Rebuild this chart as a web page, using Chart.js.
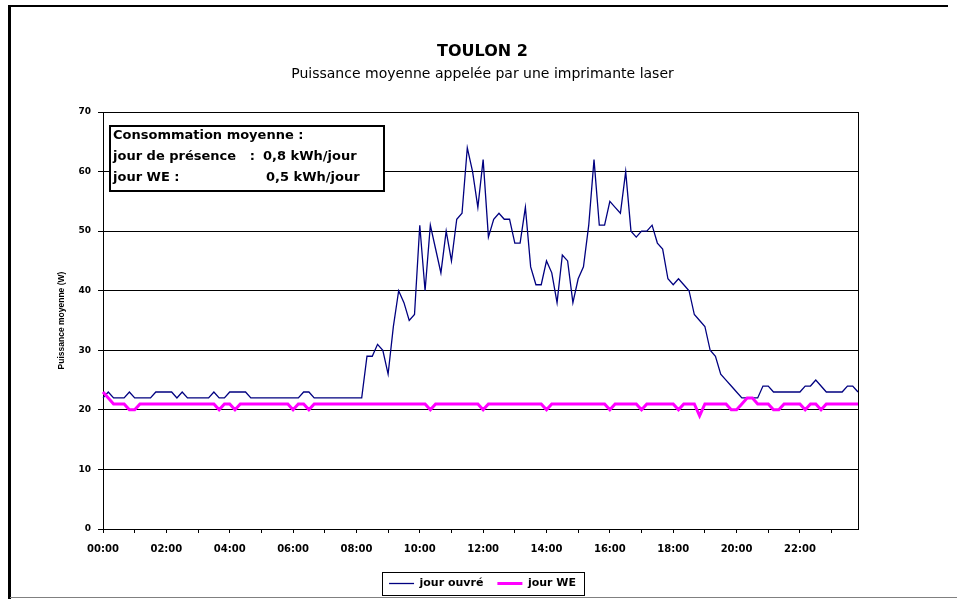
<!DOCTYPE html>
<html lang="fr">
<head>
<meta charset="utf-8">
<title>TOULON 2 - imprimante laser</title>
<script src="https://cdn.jsdelivr.net/npm/chart.js@4.4.0/dist/chart.umd.min.js"></script>
<style>
  html, body { margin: 0; padding: 0; background: #fff; }
  #zone { width: 957px; height: 599px; }
</style>
</head>
<body>
<div id="zone"><canvas id="graphique" width="957" height="599"></canvas></div>
<script>
// Puissance moyenne appelée (W), un point toutes les 10 minutes de 00:00 à 23:50
const jourOuvre = [
  22, 23, 22, 22, 22, 23, 22, 22, 22, 22,
  23, 23, 23, 23, 22, 23, 22, 22, 22, 22,
  22, 23, 22, 22, 23, 23, 23, 23, 22, 22,
  22, 22, 22, 22, 22, 22, 22, 22, 23, 23,
  22, 22, 22, 22, 22, 22, 22, 22, 22, 22,
  29, 29, 31, 30, 26, 34, 40, 38, 35, 36,
  51, 40, 51, 47, 43, 50, 45, 52, 53, 64,
  60, 54, 62, 49, 52, 53, 52, 52, 48, 48,
  54, 44, 41, 41, 45, 43, 38, 46, 45, 38,
  42, 44, 51, 62, 51, 51, 55, 54, 53, 60,
  50, 49, 50, 50, 51, 48, 47, 42, 41, 42,
  41, 40, 36, 35, 34, 30, 29, 26, 25, 24,
  23, 22, 22, 22, 22, 24, 24, 23, 23, 23,
  23, 23, 23, 24, 24, 25, 24, 23, 23, 23,
  23, 24, 24, 23
];

const jourWE = [
  23, 22, 21, 21, 21, 20, 20, 21, 21, 21,
  21, 21, 21, 21, 21, 21, 21, 21, 21, 21,
  21, 21, 20, 21, 21, 20, 21, 21, 21, 21,
  21, 21, 21, 21, 21, 21, 20, 21, 21, 20,
  21, 21, 21, 21, 21, 21, 21, 21, 21, 21,
  21, 21, 21, 21, 21, 21, 21, 21, 21, 21,
  21, 21, 20, 21, 21, 21, 21, 21, 21, 21,
  21, 21, 20, 21, 21, 21, 21, 21, 21, 21,
  21, 21, 21, 21, 20, 21, 21, 21, 21, 21,
  21, 21, 21, 21, 21, 21, 20, 21, 21, 21,
  21, 21, 20, 21, 21, 21, 21, 21, 21, 20,
  21, 21, 21, 19, 21, 21, 21, 21, 21, 20,
  20, 21, 22, 22, 21, 21, 21, 20, 20, 21,
  21, 21, 21, 20, 21, 21, 20, 21, 21, 21,
  21, 21, 21, 21
];

// heures de relevé
const heures = [];
for (let h = 0; h < 24; h++) {
  for (let m = 0; m < 60; m += 10) {
    heures.push(String(h).padStart(2, '0') + ':' + String(m).padStart(2, '0'));
  }
}

const titre = 'TOULON 2';
const sousTitre = 'Puissance moyenne appelée par une imprimante laser';
const titreAxeY = 'Puissance moyenne (W)';
const encadreTitre = 'Consommation moyenne :';
const encadreLibelles = ['jour de présence   :', 'jour WE :'];
const encadreValeurs = ['0,8 kWh/jour', '0,5 kWh/jour'];

Chart.defaults.font.family = "'DejaVu Sans', sans-serif";
Chart.defaults.color = '#000';

// cadre extérieur, bord droit du tracé, encadré et cadre de légende
const habillage = {
  id: 'habillage',
  beforeDraw(chart) {
    const ctx = chart.ctx;
    ctx.save();
    ctx.fillStyle = '#fff';
    ctx.fillRect(0, 0, chart.width, chart.height);
    ctx.fillStyle = '#000';
    ctx.fillRect(8, 5, 3, chart.height - 5);
    ctx.fillRect(8, 5, 940, 2);
    ctx.fillStyle = '#808080';
    ctx.fillRect(10, 597, chart.width - 10, 1);
    ctx.restore();
  },
  afterDraw(chart) {
    const ctx = chart.ctx;
    const a = chart.chartArea;
    ctx.save();

    ctx.strokeStyle = '#000';
    ctx.lineWidth = 1;
    ctx.beginPath();
    ctx.moveTo(Math.round(a.right) + 0.5, Math.round(a.top));
    ctx.lineTo(Math.round(a.right) + 0.5, Math.round(a.bottom) + 1);
    ctx.stroke();

    // encadré des consommations
    ctx.fillStyle = '#fff';
    ctx.fillRect(110, 126, 274, 65);
    ctx.lineWidth = 2;
    ctx.strokeRect(110, 126, 274, 65);
    ctx.fillStyle = '#000';
    ctx.font = "bold 13px 'DejaVu Sans'";
    ctx.textBaseline = 'middle';
    ctx.textAlign = 'left';
    ctx.fillText(encadreTitre, 113, 135.6);
    ctx.fillText(encadreLibelles[0], 113, 156.5);
    ctx.fillText(encadreValeurs[0], 263, 156.5);
    ctx.fillText(encadreLibelles[1], 113, 177.3);
    ctx.fillText(encadreValeurs[1], 266, 177.3);

    // cadre autour de la légende
    const hb = chart.legend.legendHitBoxes;
    if (hb && hb.length) {
      const premier = hb[0];
      const dernier = hb[hb.length - 1];
      const milieu = premier.top + premier.height / 2;
      const gauche = Math.round(premier.left - 7) + 0.5;
      const droite = Math.round(dernier.left + dernier.width + 8) + 0.5;
      const haut = Math.round(milieu - 11.5) + 0.5;
      ctx.lineWidth = 1;
      ctx.strokeRect(gauche, haut, droite - gauche, 23);
    }
    ctx.restore();
  }
};

new Chart(document.getElementById('graphique'), {
  type: 'line',
  data: {
    labels: heures,
    datasets: [
      {
        label: 'jour ouvré',
        data: jourOuvre,
        borderColor: '#000080',
        backgroundColor: '#000080',
        borderWidth: 1.3,
        pointRadius: 0,
        pointBorderColor: '#000080',
        pointBorderWidth: 1.3,
        tension: 0,
        order: 1
      },
      {
        label: 'jour WE',
        data: jourWE,
        borderColor: '#ff00ff',
        backgroundColor: '#ff00ff',
        borderWidth: 3,
        pointRadius: 0,
        pointBorderColor: '#ff00ff',
        pointBorderWidth: 3,
        tension: 0,
        order: 0
      }
    ]
  },
  options: {
    responsive: false,
    animation: false,
    devicePixelRatio: 1,
    layout: { padding: { left: 8, right: 0, top: 0, bottom: 0 } },
    plugins: {
      title: {
        display: true,
        text: titre,
        color: '#000',
        font: { size: 16, weight: 'bold', lineHeight: 1.2 },
        padding: { top: 42, bottom: 0 }
      },
      subtitle: {
        display: true,
        text: sousTitre,
        color: '#000',
        font: { size: 14, weight: 'normal', lineHeight: 1.2 },
        padding: { top: 4.6, bottom: 29.4 }
      },
      legend: {
        position: 'bottom',
        labels: {
          usePointStyle: true,
          pointStyle: 'line',
          pointStyleWidth: 25,
          padding: 14,
          color: '#000',
          font: { size: 11, weight: 'bold' },
          sort: (a, b) => a.datasetIndex - b.datasetIndex
        }
      },
      tooltip: { enabled: false }
    },
    scales: {
      x: {
        type: 'category',
        offset: false,
        ticks: {
          autoSkip: false,
          maxRotation: 0,
          minRotation: 0,
          padding: 10,
          color: '#000',
          font: { size: 10, weight: 'bold' },
          callback: (val, i) => (i % 12 === 0 ? heures[i] : '')
        },
        grid: {
          drawOnChartArea: false,
          drawTicks: true,
          tickLength: 4,
          color: (c) => (c.index % 6 === 0 ? '#000' : 'rgba(0,0,0,0)')
        },
        border: { color: '#000', width: 1 },
        afterFit(scale) { scale.height = 35; }
      },
      y: {
        min: 0,
        max: 70,
        ticks: {
          stepSize: 10,
          padding: 7,
          color: '#000',
          font: { size: 9, weight: 'bold' }
        },
        grid: { color: '#000', lineWidth: 1, drawTicks: true, tickLength: 5 },
        border: { color: '#000', width: 1 },
        title: {
          display: true,
          text: titreAxeY,
          color: '#000',
          font: { family: "'Liberation Sans', Arial, sans-serif", size: 8.5, weight: 'bold', lineHeight: 1.2 },
          padding: { top: 49, bottom: 0 }
        },
        afterFit(scale) { scale.width = 95; }
      },
      // marge à droite du tracé
      marge: {
        position: 'right',
        min: 0,
        max: 70,
        ticks: { display: false },
        grid: { display: false, drawTicks: false },
        border: { display: false },
        afterFit(scale) { scale.width = 99; }
      }
    }
  },
  plugins: [habillage]
});
</script>
</body>
</html>
